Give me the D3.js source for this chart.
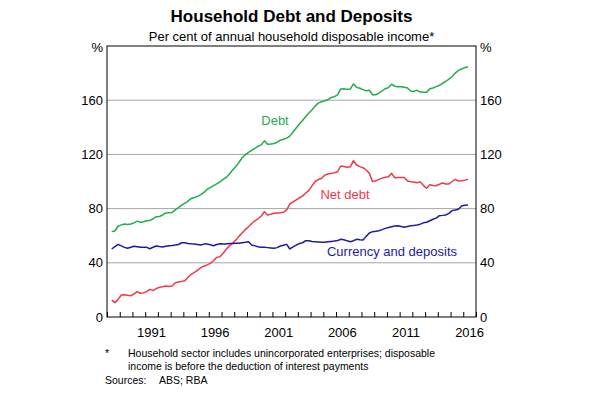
<!DOCTYPE html>
<html>
<head>
<meta charset="utf-8">
<script src="https://cdn.jsdelivr.net/npm/d3@7"></script>
<style>
  body { margin: 0; background: #fff; }
  svg { font-family: Arial, "Liberation Sans", sans-serif; }
</style>
</head>
<body>
<svg id="chart" width="596" height="397"></svg>
<script>
// quarterly data, 1988 Q2 to 2016 Q2 (per cent of annual household disposable income)
var firstYear = 1988, firstQuarter = 2;

var debt = [
  63, 63.5, 67,
  68, 68.6, 68.3, 68.6,
  69.5, 70.8, 69.8, 70.3,
  71, 71.3, 72.5, 74,
  74.2, 75.3, 76.8, 77,
  77.2, 79, 80.8, 82.5,
  84, 85.5, 87.5, 88.2,
  89, 90.3, 92, 94.3,
  95.5, 97, 98.3, 99.8,
  101.5, 103, 105.5, 108.5,
  111, 114, 117.5, 119.8,
  121.5, 123, 124.5, 126,
  127, 130, 127.5, 127.6,
  128, 129, 130.5, 131.2,
  132, 133.5, 136.5, 139.5,
  142.5, 145, 148, 150.5,
  153, 155.8, 158, 158.8,
  159.6, 160.5, 162, 162.6,
  164, 168.3, 168.5, 168,
  168.2, 172, 169.5, 168.8,
  167.8, 167, 167.3, 164,
  164, 165.2, 166.8, 168.5,
  169.3, 171.8, 170.3, 170,
  170, 169.6, 169, 166.8,
  166.5, 167.3, 166, 165.8,
  165.9, 168.5, 169, 170,
  171, 172.5, 173.8, 175.5,
  177.3, 180, 182, 183,
  184, 184.7
];

var netDebt = [
  12.5, 10.6, 13,
  16.2, 16.5, 16, 15.7,
  17, 18.7, 17.5, 17.8,
  18.7, 20.4, 19.5, 21,
  21.9, 22.3, 22.9, 22.5,
  22.9, 25.3, 25.8, 26.3,
  26.8, 29.3, 31.5, 33,
  34.5, 36.4, 37.5, 38.5,
  39.6, 41.5, 44, 44.5,
  47, 50, 52.5, 54.5,
  56.8, 59.5, 62, 64.5,
  66.6, 69, 71, 72.5,
  74.5, 77.7, 75.3, 75.8,
  76.5, 76.8, 77, 77.3,
  79, 83.4, 85, 86.5,
  88, 89.2, 91.5, 93.5,
  97, 100, 101.5, 102.4,
  104.8, 105.5, 106, 106.5,
  107.2, 111.4, 111, 110.5,
  110.8, 115.4, 112.2, 111,
  110.2, 108.5, 106, 99.9,
  100.5, 101.6, 102.5, 103.2,
  103.5, 106, 102.8, 102.9,
  103, 103, 100.4, 99.8,
  99.6, 99.1, 99.9, 97,
  95, 97.6, 97, 96.9,
  98, 98.9, 98.2, 98.2,
  100, 101.6, 100.4, 100.6,
  101, 101.6
];

var deposits = [
  50.2, 52, 53.6,
  52.5, 51.4, 50.7, 51.5,
  52.2, 51.8, 51.4, 51.5,
  51.4, 50.4, 51.5, 52.4,
  52, 51.7, 52.2, 52.6,
  52.8, 53.1, 53.5, 54.8,
  54.8, 54.3, 54, 53.8,
  53.5, 53.1, 53.8, 53.8,
  53.3, 52.6, 53.5, 54,
  53.8, 53.9, 54.3, 54.3,
  54.5, 54.5, 54.8, 55.1,
  55.5, 53.1, 52.5, 51.9,
  51.4, 51.4, 51.2, 51,
  50.7, 51.2, 52.4, 53,
  53.6, 50.2, 51.8, 53.1,
  54.2, 54.8, 56.3, 56.2,
  55.8, 55.6, 55.4, 55.2,
  55.1, 55.5, 55.8, 56.1,
  56.5, 57.3, 57, 56.2,
  55.6, 56.3, 57.3, 57,
  56.8, 59.5, 62, 63,
  63.3, 63.7, 64.5, 65.4,
  66, 66.6, 67.2, 67.4,
  66.8, 66.2, 66.8, 67.3,
  67.6, 67.9, 68.5, 69.5,
  69.9, 71, 72.1, 73,
  74.8, 75, 75.3, 76.5,
  78.5, 79, 79.5, 81.9,
  82.5, 82.7
];

var yTicks = [0, 40, 80, 120, 160];
var yearLabels = [1991, 1996, 2001, 2006, 2011, 2016];

var seriesNames = ["Debt", "Net debt", "Currency and deposits"];
var seriesColors = ["#1fae4b", "#f0384a", "#1c1ca0"];

// mid-quarter date for the i-th observation
var quarterDate = function(i){
    var q = (firstQuarter - 1) + i;
    var year = firstYear + Math.floor(q / 4);
    var month = (q % 4) * 3 + 1;
    return new Date(year, month, 15);
}

var svg = d3.select("#chart");
var plot = {left: 107, right: 476, top: 46, bottom: 317};

var xScale = d3.scaleTime()
    .domain([new Date(1988, 0, 1), new Date(2017, 0, 1)])
    .range([plot.left, plot.right]);

var yScale = d3.scaleLinear()
    .domain([0, 200])
    .range([plot.bottom, plot.top]);

// title
svg.append("text")
    .attr("x", 291.5).attr("y", 22)
    .attr("text-anchor", "middle")
    .attr("font-size", 17).attr("font-weight", "bold")
    .text("Household Debt and Deposits");

svg.append("text")
    .attr("x", 291.5).attr("y", 41)
    .attr("text-anchor", "middle")
    .attr("font-size", 13)
    .text("Per cent of annual household disposable income*");

// gridlines
svg.append("g")
    .selectAll("line")
    .data(yTicks.slice(1))
    .enter()
    .append("line")
    .attr("x1", plot.left).attr("x2", plot.right)
    .attr("y1", function(d){ return yScale(d) })
    .attr("y2", function(d){ return yScale(d) })
    .attr("stroke", "#a6a6a6")
    .attr("stroke-width", 1);

// y axes (labels only)
var leftAxis = d3.axisLeft(yScale).tickValues(yTicks).tickSize(0).tickPadding(4);
var rightAxis = d3.axisRight(yScale).tickValues(yTicks).tickSize(0).tickPadding(4);

svg.append("g")
    .attr("transform", "translate(" + plot.left + ",0)")
    .call(leftAxis)
    .call(function(g){ g.select(".domain").remove() })
    .selectAll("text").attr("font-size", 13).attr("font-family", null).attr("fill", "#000");

svg.append("g")
    .attr("transform", "translate(" + plot.right + ",0)")
    .call(rightAxis)
    .call(function(g){ g.select(".domain").remove() })
    .selectAll("text").attr("font-size", 13).attr("font-family", null).attr("fill", "#000");

svg.append("text")
    .attr("x", plot.left - 4).attr("y", yScale(200) + 6)
    .attr("text-anchor", "end").attr("font-size", 13)
    .text("%");
svg.append("text")
    .attr("x", plot.right + 4).attr("y", yScale(200) + 6)
    .attr("font-size", 13)
    .text("%");

// x axis ticks, pointing into the plot
var xAxis = d3.axisBottom(xScale)
    .ticks(d3.timeYear.every(1))
    .tickSize(-5)
    .tickFormat("");

svg.append("g")
    .attr("transform", "translate(0," + plot.bottom + ")")
    .call(xAxis)
    .call(function(g){ g.select(".domain").remove() })
    .selectAll("line").attr("stroke", "#000");

svg.append("g")
    .selectAll("text")
    .data(yearLabels)
    .enter()
    .append("text")
    .attr("x", function(d){ return xScale(new Date(d, 6, 1)) })
    .attr("y", plot.bottom + 20)
    .attr("text-anchor", "middle")
    .attr("font-size", 13)
    .text(function(d){ return d });

// lines
var line = d3.line()
    .x(function(d, i){ return xScale(quarterDate(i)) })
    .y(function(d){ return yScale(d) });

var allSeries = [debt, netDebt, deposits];

svg.append("g")
    .selectAll("path")
    .data(allSeries)
    .enter()
    .append("path")
    .attr("d", line)
    .attr("fill", "none")
    .attr("stroke", function(d, i){ return seriesColors[i] })
    .attr("stroke-width", 1.5)
    .attr("stroke-linejoin", "round");

// series labels
var labelPos = [[275, 125], [345, 199], [392, 256]];
svg.append("g")
    .selectAll("text")
    .data(seriesNames)
    .enter()
    .append("text")
    .attr("x", function(d, i){ return labelPos[i][0] })
    .attr("y", function(d, i){ return labelPos[i][1] })
    .attr("text-anchor", "middle")
    .attr("font-size", 13)
    .attr("fill", function(d, i){ return seriesColors[i] })
    .text(function(d){ return d });

// plot frame
svg.append("rect")
    .attr("x", plot.left).attr("y", plot.top)
    .attr("width", plot.right - plot.left)
    .attr("height", plot.bottom - plot.top)
    .attr("fill", "none")
    .attr("stroke", "#000")
    .attr("stroke-width", 1);

// notes
var notes = svg.append("g").attr("font-size", 10.5);
notes.append("text").attr("x", 105).attr("y", 357).text("*");
notes.append("text").attr("x", 128).attr("y", 357)
    .text("Household sector includes unincorporated enterprises; disposable");
notes.append("text").attr("x", 128).attr("y", 370)
    .text("income is before the deduction of interest payments");
notes.append("text").attr("x", 105).attr("y", 384).text("Sources:");
notes.append("text").attr("x", 159).attr("y", 384).text("ABS; RBA");
</script>
</body>
</html>
